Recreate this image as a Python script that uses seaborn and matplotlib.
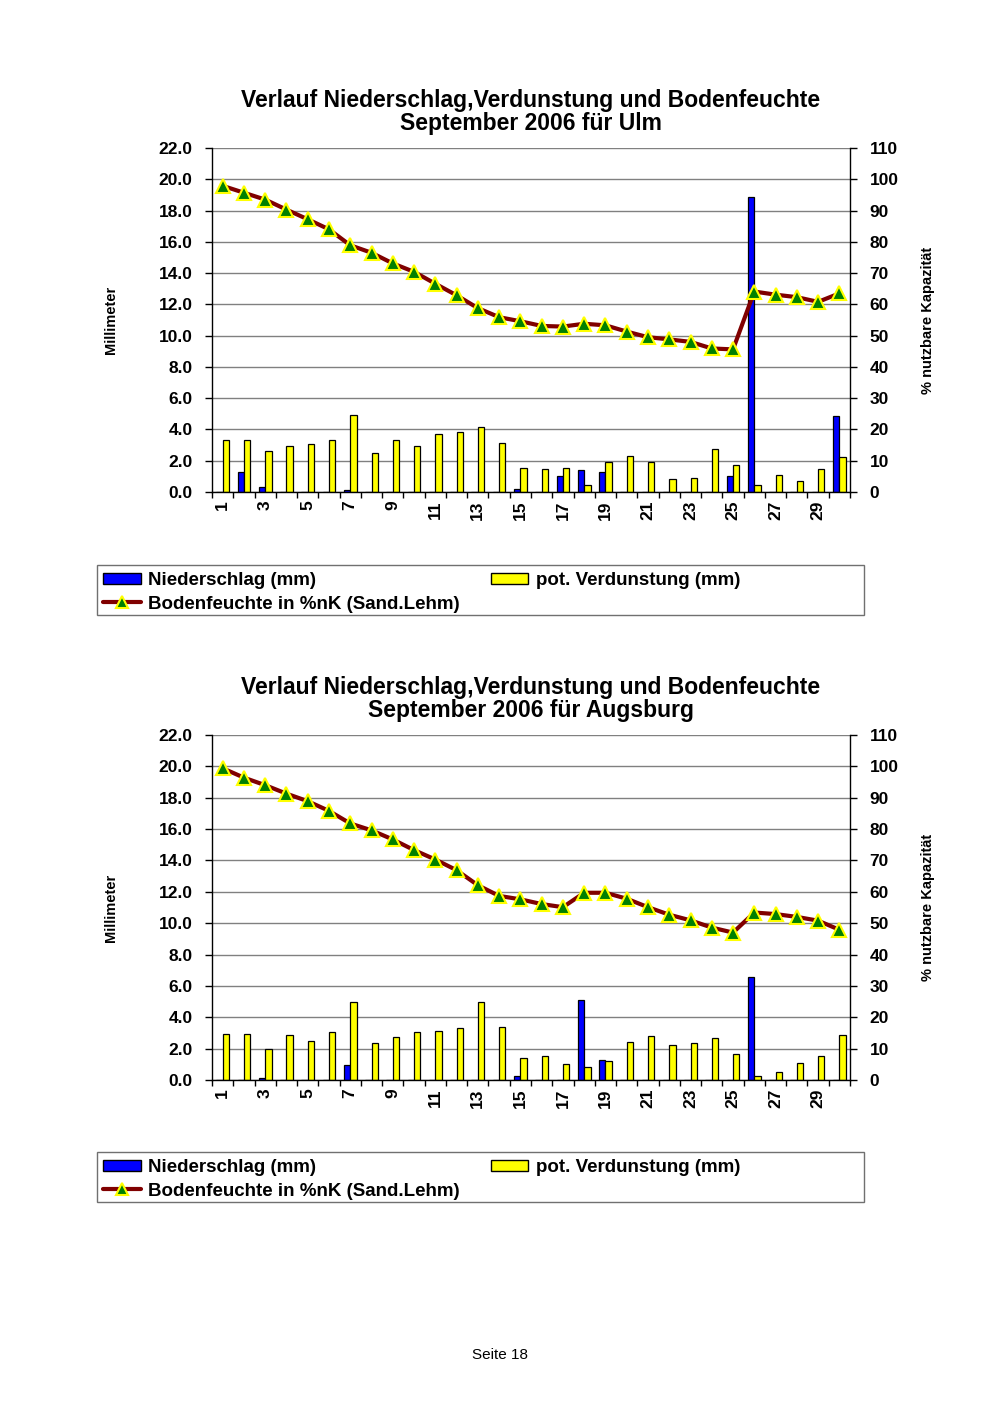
import numpy as np
import pandas as pd
import matplotlib
matplotlib.use("Agg")
import matplotlib.pyplot as plt
import seaborn as sns
from matplotlib.patches import Rectangle, Patch
from matplotlib.lines import Line2D
from matplotlib.ticker import FormatStrFormatter

# Tage im September 2006
days = list(range(1, 31))

# Ulm
ulm_rain = [0, 1.3, 0.3, 0, 0, 0, 0.15, 0, 0, 0, 0, 0, 0, 0, 0.2,
            0, 1.0, 1.4, 1.25, 0, 0, 0, 0, 0, 1.0, 18.85, 0, 0, 0, 4.85]
ulm_evap = [3.35, 3.35, 2.6, 2.95, 3.1, 3.3, 4.9, 2.5, 3.3, 2.95, 3.7, 3.85, 4.15, 3.15, 1.55,
            1.5, 1.55, 0.45, 1.95, 2.3, 1.9, 0.85, 0.9, 2.75, 1.7, 0.45, 1.1, 0.7, 1.45, 2.25]
ulm_soil = [97.9, 95.7, 93.5, 90.3, 87.2, 84.0, 78.9, 76.5, 73.1, 70.4, 66.6, 62.9, 58.8, 55.9, 54.6,
            53.1, 52.9, 53.8, 53.3, 51.3, 49.5, 48.8, 48.0, 45.9, 45.6, 64.1, 63.1, 62.3, 60.8, 63.5]

# Augsburg
aug_rain = [0, 0, 0.15, 0, 0, 0, 0.98, 0, 0, 0, 0, 0, 0, 0, 0.28,
            0, 0, 5.13, 1.26, 0, 0, 0, 0, 0, 0, 6.55, 0, 0, 0, 0]
aug_evap = [2.96, 2.96, 1.98, 2.9, 2.47, 3.09, 4.98, 2.34, 2.77, 3.09, 3.13, 3.32, 4.98, 3.38, 1.43,
            1.55, 1.0, 0.8, 1.19, 2.4, 2.8, 2.23, 2.36, 2.66, 1.68, 0.28, 0.53, 1.1, 1.51, 2.9]
aug_soil = [99.4, 96.4, 94.0, 91.3, 88.9, 85.8, 81.8, 79.6, 76.7, 73.3, 70.3, 66.9, 62.1, 58.7, 57.6,
            56.1, 55.1, 59.7, 59.7, 57.8, 55.1, 52.7, 50.9, 48.6, 47.0, 53.4, 52.9, 52.0, 50.8, 47.9]

series_names = ["Niederschlag (mm)", "pot. Verdunstung (mm)"]
soil_name = "Bodenfeuchte in %nK (Sand.Lehm)"

BLUE = "#0000FF"
YELLOW = "#FFFF00"
MAROON = "#800000"
GREEN = "#008000"

sns.set_theme(style="ticks")
plt.rcParams["font.family"] = ["Liberation Sans", "DejaVu Sans"]
plt.rcParams["font.weight"] = "bold"
plt.rcParams["axes.labelweight"] = "bold"
for key in ["text.color", "axes.labelcolor", "xtick.color", "ytick.color", "axes.edgecolor"]:
    plt.rcParams[key] = "black"

fig = plt.figure(figsize=(10, 14.15), dpi=100)


def draw_chart(rect, rain, evap, soil, title, legend_top):
    ax = fig.add_axes(rect)
    df = pd.DataFrame({
        "Tag": days * 2,
        "mm": rain + evap,
        "Reihe": [series_names[0]] * len(days) + [series_names[1]] * len(days),
    })
    sns.barplot(data=df, x="Tag", y="mm", hue="Reihe", hue_order=series_names,
                palette=[BLUE, YELLOW], saturation=1, width=0.6, gap=0,
                edgecolor="black", linewidth=0.9, errorbar=None, legend=False, ax=ax)
    ax.set_ylim(0, 22)
    ax.set_xlim(-0.5, len(days) - 0.5)
    ax.set_yticks(np.arange(0, 22.1, 2))
    ax.yaxis.set_major_formatter(FormatStrFormatter("%.1f"))
    ax.yaxis.grid(True, color="#808080", lw=1)
    ax.set_axisbelow(True)
    ax.set_xticks(range(0, len(days), 2))
    ax.set_xticklabels([str(d) for d in days[::2]], rotation=90)
    ax.set_xticks(np.arange(-0.5, len(days), 1), minor=True)
    ax.tick_params(axis="x", which="major", length=0, labelsize=12.5, pad=6)
    ax.tick_params(axis="x", which="minor", length=4, width=1, color="black")
    ax.tick_params(axis="y", length=5, width=1, color="black", labelsize=12.5, pad=9)
    ax.set_xlabel("")
    ax.set_ylabel("Millimeter", fontsize=10.5, fontweight="bold")
    ax.yaxis.set_label_coords(-0.147, 0.5)
    for s in ["top", "right"]:
        ax.spines[s].set_visible(False)
    for s in ["left", "bottom"]:
        ax.spines[s].set_linewidth(1)
    ax.set_title(title, fontsize=16.5, fontweight="bold", pad=13, linespacing=1.0)

    ax2 = ax.twinx()
    sns.lineplot(x=np.arange(len(days)), y=soil, ax=ax2, color=MAROON, lw=3,
                 marker="^", markersize=9.5, markerfacecolor=GREEN,
                 markeredgecolor=YELLOW, markeredgewidth=1.5)
    ax2.set_ylim(0, 110)
    ax2.set_yticks(np.arange(0, 111, 10))
    ax2.tick_params(axis="y", length=5, width=1, color="black", labelsize=12.5, pad=9)
    ax2.set_ylabel("% nutzbare Kapazität", fontsize=10.5, fontweight="bold")
    ax2.yaxis.set_label_coords(1.112, 0.5)
    ax2.spines["top"].set_visible(False)
    ax2.spines["left"].set_visible(False)
    ax2.spines["bottom"].set_visible(False)
    ax2.spines["right"].set_linewidth(1)

    handles = [
        Patch(facecolor=BLUE, edgecolor="black", lw=1),
        Line2D([], [], color=MAROON, lw=3, marker="^", markersize=8,
               markerfacecolor=GREEN, markeredgecolor=YELLOW, markeredgewidth=1.5),
        Patch(facecolor=YELLOW, edgecolor="black", lw=1),
    ]
    labels = [series_names[0], soil_name, series_names[1]]
    fig.legend(handles, labels, ncol=2, loc="upper left",
               bbox_to_anchor=(0.090, 1 - (legend_top - 6) / 1415),
               frameon=False, fontsize=13.5, handlelength=2.0, handleheight=0.6,
               handletextpad=0.4, columnspacing=1.65, labelspacing=0.35,
               borderpad=0.2)
    fig.patches.append(Rectangle((0.097, 1 - (legend_top + 50) / 1415), 0.767, 50 / 1415,
                                 transform=fig.transFigure, fill=False,
                                 ec="#707070", lw=1))


draw_chart([0.212, 1 - 492 / 1415, 0.638, 344 / 1415], ulm_rain, ulm_evap, ulm_soil,
           "Verlauf Niederschlag,Verdunstung und Bodenfeuchte\nSeptember 2006 für Ulm", 565)
draw_chart([0.212, 1 - 1080 / 1415, 0.638, 345 / 1415], aug_rain, aug_evap, aug_soil,
           "Verlauf Niederschlag,Verdunstung und Bodenfeuchte\nSeptember 2006 für Augsburg", 1152)

fig.text(0.5, 1 - 1355 / 1415, "Seite 18", ha="center", va="center",
         fontsize=11, fontweight="normal")

fig.savefig("out.png", dpi=100, facecolor="white")
